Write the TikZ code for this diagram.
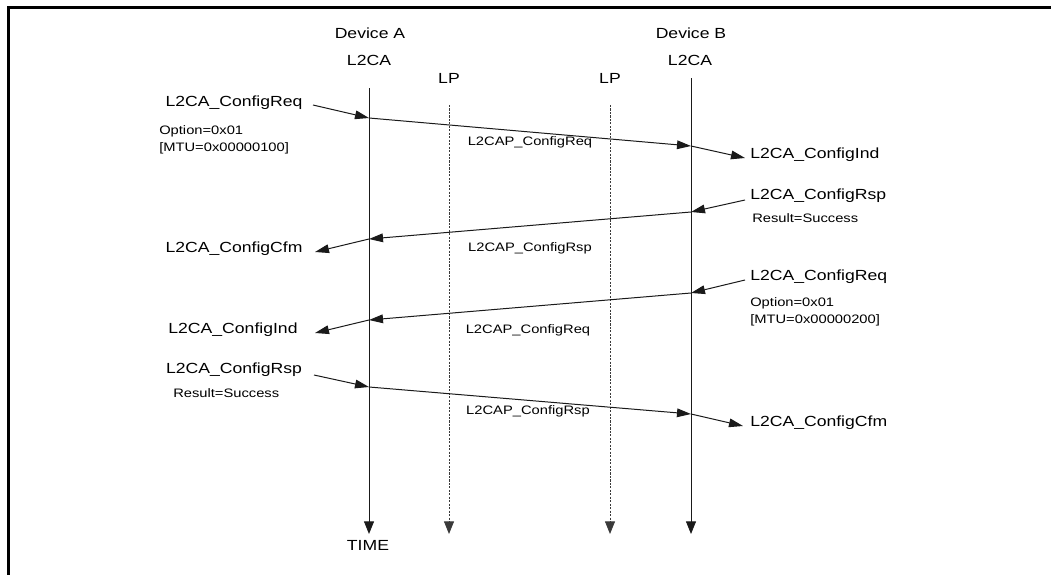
\documentclass[tikz,border=0pt]{standalone}
\usepackage{fontspec}
\setmainfont[FakeStretch=1.2]{Liberation Sans}
\usepackage{tikz}
\usetikzlibrary{arrows.meta,positioning,calc}
\definecolor{lineC}{HTML}{1A1A1A}
\definecolor{lpC}{HTML}{3A3A3A}
\tikzset{
  big/.style={inner sep=0pt, font=\fontsize{11}{13}\selectfont},
  sml/.style={inner sep=0pt, align=left, font=\fontsize{9.2}{12.75}\selectfont},
  life/.style={-{Triangle[length=9.5pt,width=7.5pt]}, line width=0.7pt, draw=lineC},
  lp/.style={-{Triangle[length=9.5pt,width=7.5pt]}, line width=0.7pt, draw=lpC,
             dash pattern=on 1.6pt off 1pt},
  msg/.style={-{Triangle[length=10.5pt,width=6.5pt]}, line width=0.75pt, draw=lineC},
}

\begin{document}
\begin{tikzpicture}[x=0.75pt, y=-0.75pt]
    \useasboundingbox (0,0) rectangle (1051,575);
    \draw[line width=1.6pt] (8.5,576) -- (8.5,7.5) -- (1052,7.5);

    % heads
    \node[big] (devA) at (370,33) {Device A};
    \node[big] (l2caA) at (369,60) {L2CA};
    \node[big] (lpA) at (449,78) {LP};
    \node[big] (lpB) at (610,78) {LP};
    \node[big] (devB) at (691,33) {Device B};
    \node[big] (l2caB) at (690,60) {L2CA};

    % life lines
    \coordinate (topA) at (369,88);   \coordinate (botA) at (369,534);
    \coordinate (topP) at (449,105);  \coordinate (botP) at (449,534);
    \coordinate (topQ) at (610,105);  \coordinate (botQ) at (610,534);
    \coordinate (topB) at (691,78);   \coordinate (botB) at (691,534);
    \draw[life] (topA) -- (botA);
    \draw[lp] (topP) -- (botP);
    \draw[lp] (topQ) -- (botQ);
    \draw[life] (topB) -- (botB);
    \node[big] (time) at (368,545) {TIME};

    % A -> B : request
    \node[big] (reqA) at (234,103) {L2CA\_ConfigReq};
    \node[sml, anchor=west] (optA) at (159,139.5) {Option=0x01\\{[MTU=0x00000100]}};
    \node[sml] (pduA) at (530,142) {L2CAP\_ConfigReq};
    \node[big, anchor=west] (indB) at (750,155) {L2CA\_ConfigInd};
    \coordinate (s1) at (313,105); \coordinate (a1) at (369,118);
    \coordinate (b1) at (691,146); \coordinate (t1) at (745,158);
    \draw[msg] (s1) -- (a1);
    \draw[msg] (a1) -- (b1);
    \draw[msg] (b1) -- (t1);

    % B -> A : response
    \node[big, anchor=west] (rspB) at (750,196) {L2CA\_ConfigRsp};
    \node[sml, anchor=west] (resB) at (752,218) {Result=Success};
    \node[sml] (pduB) at (530,248) {L2CAP\_ConfigRsp};
    \node[big] (cfmA) at (234,249) {L2CA\_ConfigCfm};
    \coordinate (s2) at (745,200); \coordinate (b2) at (691,212);
    \coordinate (a2) at (369,239); \coordinate (t2) at (315,252);
    \draw[msg] (s2) -- (b2);
    \draw[msg] (b2) -- (a2);
    \draw[msg] (a2) -- (t2);

    % B -> A : request
    \node[big, anchor=west] (reqB) at (750,277) {L2CA\_ConfigReq};
    \node[sml, anchor=west] (optB) at (750,311.5) {Option=0x01\\{[MTU=0x00000200]}};
    \node[sml] (pduC) at (528,330) {L2CAP\_ConfigReq};
    \node[big] (indA) at (233,330) {L2CA\_ConfigInd};
    \coordinate (s3) at (745,280); \coordinate (b3) at (691,293);
    \coordinate (a3) at (369,320); \coordinate (t3) at (315,333);
    \draw[msg] (s3) -- (b3);
    \draw[msg] (b3) -- (a3);
    \draw[msg] (a3) -- (t3);

    % A -> B : response
    \node[big] (rspA) at (234,370) {L2CA\_ConfigRsp};
    \node[sml, anchor=west] (resA) at (173,393) {Result=Success};
    \node[sml] (pduD) at (528,411) {L2CAP\_ConfigRsp};
    \node[big, anchor=west] (cfmB) at (750,423) {L2CA\_ConfigCfm};
    \coordinate (s4) at (314,375); \coordinate (a4) at (369,387);
    \coordinate (b4) at (691,414); \coordinate (t4) at (743,426);
    \draw[msg] (s4) -- (a4);
    \draw[msg] (a4) -- (b4);
    \draw[msg] (b4) -- (t4);
\end{tikzpicture}
\end{document}
